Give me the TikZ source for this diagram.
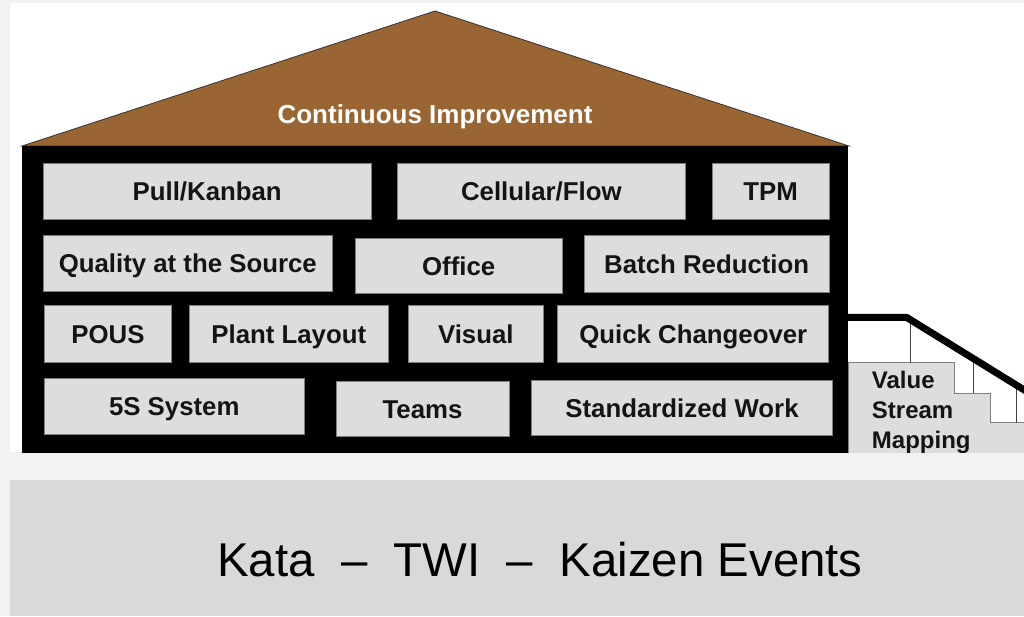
\documentclass[tikz,border=0pt]{standalone}
\usepackage{fontspec}
\setmainfont{Liberation Sans}
\definecolor{bgc}{HTML}{F2F2F2}
\definecolor{bannerc}{HTML}{D9D9D9}
\definecolor{roofc}{HTML}{996633}
\definecolor{boxc}{HTML}{DDDDDD}
\definecolor{edgec}{HTML}{7F7F7F}
\definecolor{inkc}{HTML}{141414}
\begin{document}
\begin{tikzpicture}[x=1pt,y=-1pt,
  brick/.style={draw=edgec, line width=1pt, fill=boxc, inner sep=0pt,
    text height=18.6pt, text depth=0pt, text=inkc,
    font=\fontsize{25.8}{30}\selectfont\bfseries},
  thinline/.style={draw=black!75, line width=1pt},
]
\useasboundingbox (0,0) rectangle (1024,616);
\fill[bgc] (0,0) rectangle (1024,616);
\fill[white] (10,3) rectangle (1024,452);
\node[fill=bannerc, minimum width=1014pt, minimum height=136pt, anchor=north west, inner sep=0pt] (banner) at (10,480) {};
\node[anchor=base, inner sep=0pt, font=\fontsize{47.4}{52}\selectfont] (foundation) at (540,576) {Kata\ \ –\ \ TWI\ \ –\ \ Kaizen Events};

\begin{scope}
\clip (10,3) rectangle (1024,452);
% roof
\draw[fill=roofc, draw=black!80, line width=0.8pt] (22,146) -- (435,11) -- (849,146) -- cycle;
\node[anchor=base, inner sep=0pt, text=white, font=\fontsize{26}{30}\selectfont\bfseries] (roof) at (435,123) {Continuous Improvement};
% body
\fill[black] (22,146) rectangle (848,460);
% stairs
\draw[draw=edgec, line width=1pt, fill=boxc] (848,362.7) -- (954.3,362.7) -- (954.3,393.3) -- (990.7,393.3) -- (990.7,422.7) -- (1030,422.7) -- (1030,470) -- (848,470) -- cycle;
\coordinate (r0) at (848,317.3);
\coordinate (r1) at (906.5,317.3);
\coordinate (r2) at (1034,396);
\draw[thinline] (910.7,320) -- (910.7,362.7);
\draw[thinline] (973.3,360) -- (973.3,393.3);
\draw[thinline] (1016.7,385) -- (1016.7,422.7);
\draw[line width=7pt, line join=miter] (r0) -- (r1) -- (r2);
\node[anchor=base west, inner sep=0pt, align=left, text=inkc, font=\fontsize{24}{30}\selectfont\bfseries] (vsm) at (871.7,448.3) {Value\\Stream\\Mapping};
% bricks
\node[brick, minimum width=327.7pt, minimum height=56pt] (pull) at (207.2,191.3) {Pull/Kanban};
\node[brick, minimum width=288pt, minimum height=56pt] (cell) at (541.3,191.3) {Cellular/Flow};
\node[brick, minimum width=116.7pt, minimum height=56pt] (tpm) at (770.7,191.3) {TPM};
\node[brick, minimum width=289pt, minimum height=55.7pt] (qual) at (187.8,263.2) {Quality at the Source};
\node[brick, minimum width=207.3pt, minimum height=55pt] (office) at (458.7,265.8) {Office};
\node[brick, minimum width=244.7pt, minimum height=56.6pt] (batch) at (706.7,264) {Batch Reduction};
\node[brick, minimum width=127.4pt, minimum height=56.6pt] (pous) at (108,334) {POUS};
\node[brick, minimum width=199pt, minimum height=56.6pt] (plant) at (288.8,334) {Plant Layout};
\node[brick, minimum width=135pt, minimum height=56.6pt] (visual) at (475.8,334) {Visual};
\node[brick, minimum width=270.7pt, minimum height=56.6pt] (quick) at (693.3,334) {Quick Changeover};
\node[brick, minimum width=260pt, minimum height=55.6pt] (fives) at (174.3,406.5) {5S System};
\node[brick, minimum width=173pt, minimum height=55.3pt] (teams) at (422.5,409.3) {Teams};
\node[brick, minimum width=301.4pt, minimum height=55.4pt] (std) at (682,408) {Standardized Work};
\end{scope}
\end{tikzpicture}
\end{document}
